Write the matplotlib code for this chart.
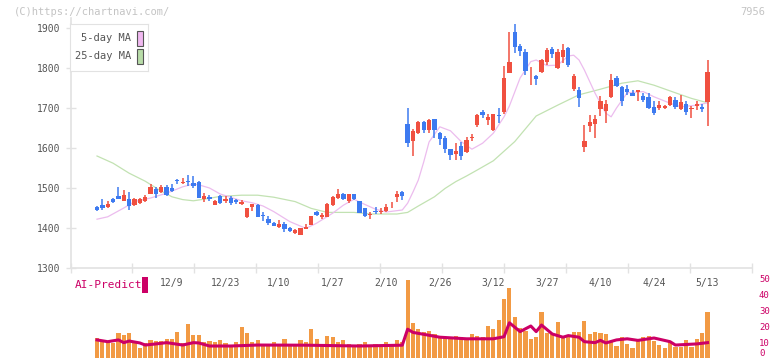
import matplotlib
matplotlib.use('Agg')
import matplotlib.pyplot as plt
from matplotlib.patches import Rectangle

# daily candles, index 0 = 11/18 ... 115 = 5/13
opens = [1434, 1452, 1457, 1453, 1472, 1481, 1468, 1473, 1457, 1462, 1467, 1486, 1497, 1489, 1503, 1500,
         1521, 1512, 1518, 1512, 1516, 1473, 1478, 1458, 1481, 1468, 1474, 1470, 1460, 1428, 1452, 1458,
         1433, 1422, 1413, 1403, 1410, 1400, 1388, 1383, 1398, 1408, 1441, 1428, 1428, 1457, 1476, 1485,
         1467, 1485, 1467, 1450, 1433, 1442, 1441, 1442, 1459, 1478, 1489, 1660, 1618, 1638, 1665, 1645,
         1672, 1637, 1626, 1597, 1585, 1606, 1591, 1626, 1657, 1691, 1670, 1645, 1682, 1691, 1788, 1890,
         1855, 1840, 1789, 1780, 1791, 1816, 1847, 1799, 1828, 1849, 1748, 1745, 1603, 1655, 1660, 1698,
         1693, 1728, 1775, 1753, 1747, 1738, 1741, 1730, 1728, 1702, 1701, 1701, 1707, 1720, 1697, 1710,
         1698, 1705, 1703, 1716]
highs = [1435, 1456, 1472, 1467, 1476, 1503, 1495, 1490, 1474, 1475, 1483, 1510, 1503, 1507, 1507, 1509,
         1523, 1525, 1532, 1530, 1518, 1487, 1483, 1469, 1483, 1480, 1480, 1473, 1469, 1450, 1460, 1459,
         1439, 1430, 1416, 1420, 1414, 1403, 1397, 1400, 1410, 1431, 1443, 1437, 1462, 1480, 1497, 1487,
         1486, 1486, 1468, 1451, 1441, 1453, 1449, 1460, 1466, 1493, 1492, 1700, 1648, 1667, 1667, 1673,
         1672, 1640, 1630, 1598, 1613, 1615, 1627, 1635, 1685, 1696, 1685, 1686, 1701, 1805, 1890, 1910,
         1860, 1848, 1802, 1782, 1823, 1850, 1852, 1848, 1860, 1852, 1785, 1752, 1657, 1682, 1682, 1730,
         1720, 1785, 1780, 1755, 1757, 1745, 1746, 1737, 1737, 1718, 1717, 1707, 1730, 1727, 1732, 1717,
         1705, 1717, 1710, 1820]
lows = [1434, 1442, 1446, 1449, 1462, 1472, 1467, 1445, 1455, 1460, 1465, 1486, 1476, 1487, 1481, 1491,
        1510, 1510, 1505, 1500, 1474, 1466, 1468, 1457, 1460, 1462, 1458, 1460, 1457, 1425, 1443, 1427,
        1418, 1408, 1404, 1399, 1389, 1390, 1386, 1383, 1397, 1407, 1430, 1422, 1427, 1455, 1472, 1470,
        1462, 1471, 1437, 1427, 1422, 1434, 1434, 1440, 1449, 1466, 1470, 1602, 1581, 1635, 1637, 1637,
        1626, 1607, 1588, 1570, 1570, 1570, 1588, 1618, 1653, 1675, 1657, 1643, 1662, 1685, 1788, 1838,
        1830, 1783, 1758, 1758, 1788, 1808, 1825, 1797, 1813, 1802, 1742, 1703, 1591, 1641, 1626, 1680,
        1663, 1724, 1753, 1706, 1733, 1730, 1718, 1715, 1697, 1682, 1695, 1698, 1705, 1697, 1695, 1683,
        1674, 1695, 1691, 1655]
closes = [1435, 1445, 1451, 1460, 1466, 1473, 1483, 1456, 1472, 1472, 1477, 1502, 1486, 1502, 1483, 1493,
          1518, 1516, 1514, 1505, 1476, 1481, 1472, 1467, 1462, 1472, 1463, 1464, 1466, 1450, 1459, 1428,
          1431, 1413, 1406, 1410, 1398, 1393, 1395, 1400, 1403, 1430, 1433, 1433, 1461, 1477, 1485, 1472,
          1484, 1472, 1438, 1431, 1435, 1440, 1443, 1452, 1461, 1485, 1481, 1612, 1643, 1665, 1645, 1670,
          1645, 1622, 1597, 1582, 1593, 1581, 1620, 1628, 1682, 1683, 1678, 1685, 1680, 1775, 1816, 1853,
          1843, 1793, 1791, 1772, 1820, 1845, 1834, 1841, 1845, 1808, 1781, 1724, 1618, 1666, 1672, 1717,
          1710, 1770, 1756, 1718, 1741, 1731, 1745, 1720, 1701, 1688, 1707, 1705, 1728, 1703, 1716, 1691,
          1700, 1710, 1697, 1790]

ma5_idx = [1, 3, 6, 8, 11, 14, 17, 19, 20, 22, 24, 28, 30, 32, 34, 37, 40, 42, 45, 47, 49, 50, 53, 55,
           58, 59, 60, 61, 62, 63, 65, 67, 69, 71, 73, 75, 77, 78, 80, 82, 83, 85, 87, 89, 90, 91, 92,
           94, 96, 97, 98, 100, 103, 105, 108, 110, 113, 115]
ma5_val = [1422, 1428, 1450, 1466, 1475, 1487, 1503, 1510, 1508, 1500, 1485, 1468, 1463, 1455, 1441,
           1416, 1399, 1412, 1437, 1457, 1472, 1465, 1447, 1440, 1445, 1462, 1490, 1520, 1565, 1615,
           1653, 1643, 1616, 1597, 1612, 1637, 1678, 1705, 1775, 1816, 1820, 1806, 1807, 1830, 1832,
           1820, 1795, 1737, 1687, 1678, 1700, 1738, 1741, 1728, 1712, 1703, 1707, 1713]

ma25_idx = [1, 4, 7, 10, 13, 15, 17, 19, 21, 24, 28, 31, 34, 38, 41, 44, 49, 52, 57, 59, 61, 64, 66,
            68, 70, 72, 75, 79, 83, 87, 91, 95, 99, 102, 105, 109, 112, 115]
ma25_val = [1580, 1562, 1537, 1517, 1492, 1478, 1471, 1468, 1472, 1479, 1482, 1482, 1477, 1466, 1449,
            1439, 1439, 1435, 1435, 1439, 1455, 1478, 1499, 1516, 1530, 1545, 1568, 1616, 1680, 1707,
            1733, 1747, 1762, 1768, 1757, 1738, 1724, 1713]

# lower panel, index 1 ... 115
volume = [12.5, 11.3, 10.6, 9.6, 15.8, 14.4, 15.8, 9.6, 6.5, 9.6, 11.3, 10.9, 10.6, 11.9, 11.9, 16.5,
          9.6, 21.3, 14.4, 14.4, 10.2, 10.6, 10.2, 11.3, 9.6, 7.5, 10.2, 19.6, 15.8, 10.2, 11.3,
          9, 8, 10, 9, 12, 8, 9, 11, 10, 18, 12, 9, 14, 13, 10, 11, 9, 8, 9, 10, 8, 9, 8, 10, 9, 11, 10,
          49, 22, 18, 16, 17, 15, 14, 13, 12, 14, 13, 12, 15, 14, 13, 20, 18, 24,
          37, 44, 25.8, 19, 17, 11.9, 13.3, 28.7, 15.8, 15, 22.5, 13.3, 13.3, 16.3, 16.3, 23.1, 15,
          16.3, 15.8, 15, 10.2, 7.5, 13.1, 8.75, 6.25, 10.4, 13.1, 13.75, 10.6, 8.1, 6.25, 10.6, 7.1,
          7.1, 11.3, 7.1, 12, 15.8, 28.7]
ai_idx = [1, 3, 5, 6, 7, 9, 10, 12, 14, 17, 19, 20, 22, 26, 31, 40, 50, 58, 59, 60, 65, 70, 75, 77,
          78, 80, 82, 83, 84, 86, 88, 89, 91, 92, 94, 95, 96, 98, 100, 102, 105, 108, 109, 113, 115]
ai_val = [11.3, 10.2, 11.3, 9.6, 10.6, 9.4, 8.1, 8.8, 9.6, 8.1, 9.6, 9.4, 7.5, 7.5, 8.1, 8, 7.5, 8,
          18, 16, 13, 12, 12, 13.3, 22, 16.5, 20, 16.5, 20.6, 15, 13, 14, 13, 10.2, 9.6, 11, 9.4,
          11.3, 12, 11, 12.5, 10.2, 8.1, 8.8, 9.6]

label_idx = [15, 25, 35, 45, 55, 65, 75, 85, 95, 105, 115]
label_txt = ['12/9', '12/23', '1/10', '1/27', '2/10', '2/26', '3/12', '3/27', '4/10', '4/24', '5/13']

RED = '#f05040'
BLUE = '#3d7af0'
GRID = '#e2e2e2'
TXT = '#555555'
CRIM = '#cc0066'
MONO = 'DejaVu Sans Mono'

W, H = 772, 361
fig = plt.figure(figsize=(W / 100, H / 100), dpi=100)

def px(x0, y0, x1, y1):
    return [x0 / W, 1 - y1 / H, (x1 - x0) / W, (y1 - y0) / H]

x0, x1 = -3.95, 123.3

ax = fig.add_axes(px(70.5, 18, 752, 268))
for i in range(len(opens)):
    o, h, l, c = opens[i], highs[i], lows[i], closes[i]
    col = RED if c >= o else BLUE
    ax.vlines(i, l, h, color=col, lw=1.1, zorder=3)
    ax.add_patch(Rectangle((i - 0.4, min(o, c)), 0.8, max(abs(c - o), 1.0),
                           facecolor=col, edgecolor='none', zorder=4))
ax.plot(ma25_idx, ma25_val, color='#c2e2b2', lw=0.9, zorder=2)
ax.plot(ma5_idx, ma5_val, color='#ecbcee', lw=0.9, zorder=2)

ax.set_xlim(x0, x1)
ax.set_ylim(1300, 1925)
ax.set_yticks([1300, 1400, 1500, 1600, 1700, 1800, 1900])
ax.set_xticks([x0 + k * (x1 - x0) / 11 for k in range(12)])
ax.set_xticklabels([])
ax.tick_params(axis='both', direction='inout', length=7, width=1, color=GRID,
               labelsize=7, labelcolor=TXT, pad=4)
for t in ax.get_yticklabels():
    t.set_family(MONO)
for s in ['top', 'right']:
    ax.spines[s].set_visible(False)
for s in ['left', 'bottom']:
    ax.spines[s].set_color(GRID)
    ax.spines[s].set_linewidth(1.2)

# legend box
lg = fig.add_axes(px(70, 24, 148, 71))
lg.set_xlim(70, 148)
lg.set_ylim(71, 24)
lg.set_xticks([])
lg.set_yticks([])
for s in lg.spines.values():
    s.set_color(GRID)
lg.text(131, 38, '5-day MA', ha='right', va='center', family=MONO, fontsize=7.5, color=TXT)
lg.text(131, 56, '25-day MA', ha='right', va='center', family=MONO, fontsize=7.5, color=TXT)
lg.add_patch(Rectangle((137, 31), 5.5, 15, facecolor='#f0b8f0', edgecolor='#555555', lw=0.8))
lg.add_patch(Rectangle((137, 49), 5.5, 15, facecolor='#b8dca8', edgecolor='#555555', lw=0.8))

# lower panel
ax2 = fig.add_axes(px(70.5, 278, 752, 358))
vx = list(range(1, len(volume) + 1))
ax2.bar(vx, volume, width=0.78, color='#f29a44', zorder=2)
ax2.plot(ai_idx, ai_val, color=CRIM, lw=2.2, zorder=3)
ax2.set_xlim(x0, x1)
ax2.set_ylim(0, 50)
ax2.set_xticks([])
ax2.yaxis.tick_right()
ax2.set_yticks([0, 10, 20, 30, 40, 50])
ax2.set_yticklabels(['0', '10', '20', '30', '40', '50'])
ax2.tick_params(axis='y', length=0, pad=5, labelsize=6.5, labelcolor=CRIM)
for t in ax2.get_yticklabels():
    t.set_family(MONO)
ax2.get_yticklabels()[0].set_va('bottom')
for s in ax2.spines.values():
    s.set_visible(False)
ax2.patch.set_alpha(0)

# date labels
for i, t in zip(label_idx, label_txt):
    xf = (70.5 + (i - x0) / (x1 - x0) * (752 - 70.5)) / W
    fig.text(xf, 1 - 283 / H, t, ha='center', va='center', family=MONO, fontsize=7, color=TXT)

fig.text(75 / W, 1 - 285 / H, 'AI-Predict', ha='left', va='center', family=MONO, fontsize=8, color=CRIM)
fig.patches.append(Rectangle((142 / W, 1 - 293 / H), 6 / W, 16 / H, facecolor=CRIM,
                             edgecolor='none', transform=fig.transFigure, figure=fig))
fig.text(14 / W, 1 - 12 / H, '(C)https://chartnavi.com/', ha='left', va='center', family=MONO,
         fontsize=7.5, color='#c4c4c4')
fig.text(765 / W, 1 - 12 / H, '7956', ha='right', va='center', family=MONO, fontsize=7.5, color='#c4c4c4')

fig.savefig('out.png', dpi=100)
